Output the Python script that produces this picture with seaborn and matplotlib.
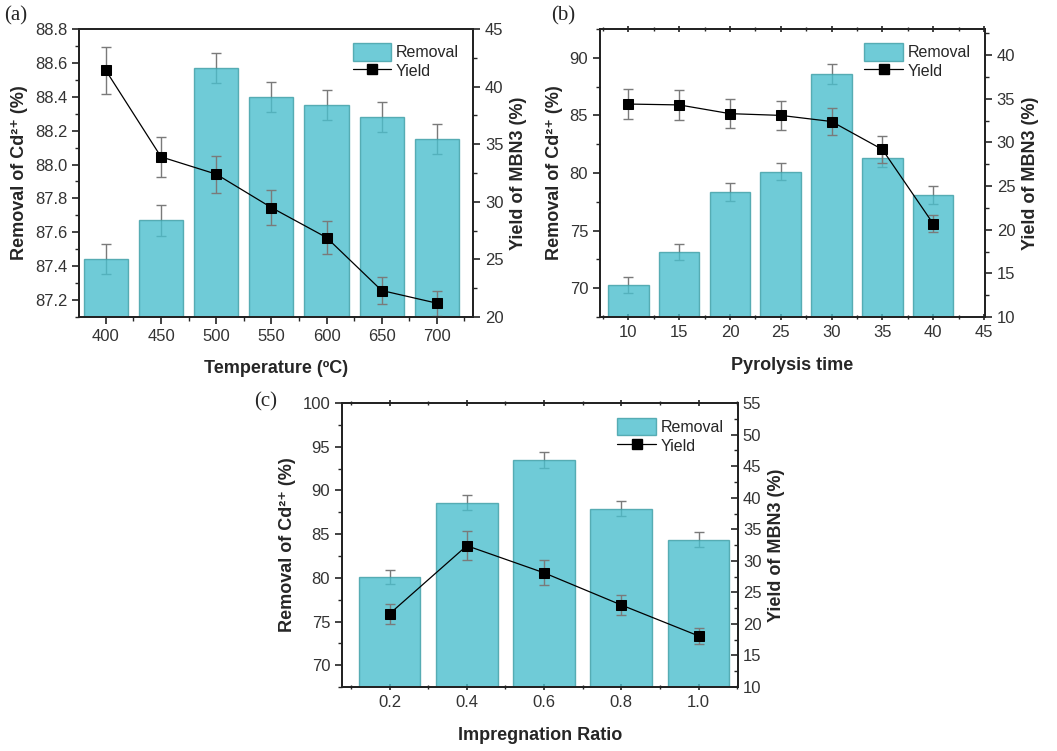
import numpy as np
import seaborn as sns
import matplotlib.pyplot as plt
from matplotlib.ticker import AutoMinorLocator, MultipleLocator
from matplotlib.patches import Patch
from matplotlib.lines import Line2D

# ---- data
temp = [400, 450, 500, 550, 600, 650, 700]
temp_removal = [87.44, 87.67, 88.57, 88.40, 88.35, 88.28, 88.15]
temp_removal_err = [0.088, 0.09, 0.09, 0.09, 0.088, 0.088, 0.088]
temp_yield = [41.4, 33.9, 32.4, 29.5, 26.9, 22.3, 21.2]
temp_yield_err = [2.05, 1.75, 1.6, 1.5, 1.4, 1.2, 1.1]

ptime = [10, 15, 20, 25, 30, 35, 40]
time_removal = [70.26, 73.13, 78.35, 80.12, 88.58, 81.33, 78.12]
time_removal_err = [0.72, 0.72, 0.75, 0.75, 0.85, 0.8, 0.78]
time_yield = [34.4, 34.3, 33.3, 33.1, 32.4, 29.2, 20.7]
time_yield_err = [1.7, 1.7, 1.65, 1.7, 1.6, 1.5, 1.0]

ratio = [0.2, 0.4, 0.6, 0.8, 1.0]
ratio_removal = [80.13, 88.58, 93.45, 87.89, 84.35]
ratio_removal_err = [0.82, 0.85, 0.9, 0.85, 0.85]
ratio_yield = [21.6, 32.4, 28.1, 23.0, 18.1]
ratio_yield_err = [1.6, 2.3, 2.0, 1.65, 1.3]

sns.set_style('ticks')
plt.rcParams['font.family'] = ['Liberation Sans', 'DejaVu Sans']

bar_face = (0.294, 0.75, 0.809)
bar_edge = '#3e9ea6'
err_col = '#7a7a7a'


def panel(rect, x, rem, rem_err, yld, yld_err, xlabel, xlim, ylim1, ylim2,
          xmajor, y1major, y2major, xticks=None, xfmt=None, right_in=False, top_ticks=True):
    ax = fig.add_axes(rect)
    ax.errorbar(x, rem, yerr=rem_err, fmt='none', ecolor=err_col, elinewidth=1,
                capsize=3.5, capthick=1, zorder=1)
    sns.barplot(x=x, y=rem, native_scale=True, width=0.8, color=bar_face, saturation=1,
                alpha=0.8, edgecolor=bar_edge, linewidth=1, errorbar=None, ax=ax, zorder=2)
    ax.set_xlim(*xlim)
    ax.set_ylim(*ylim1)
    ax.xaxis.set_major_locator(MultipleLocator(xmajor))
    ax.yaxis.set_major_locator(MultipleLocator(y1major))
    if xticks is not None:
        ax.set_xticks(xticks)
    if xfmt is not None:
        ax.set_xticklabels([xfmt.format(v) for v in ax.get_xticks()])
    ax.xaxis.set_minor_locator(AutoMinorLocator(2))
    ax.yaxis.set_minor_locator(AutoMinorLocator(2))
    ax.tick_params(axis='both', which='major', direction='out', length=5, width=1.2,
                   labelsize=12, colors='#222222', labelcolor='#333333')
    ax.tick_params(axis='both', which='minor', direction='out', length=3, width=1)
    if top_ticks:
        ax.tick_params(axis='x', which='both', top=True, direction='inout')
    ax.set_xlabel(xlabel, fontsize=13, fontweight='bold', labelpad=12)
    ax.set_ylabel('Removal of Cd²⁺ (%)', fontsize=13, fontweight='bold', labelpad=5)
    for s in ax.spines.values():
        s.set_linewidth(1.3)
        s.set_color('#222222')

    ax2 = ax.twinx()
    sns.lineplot(x=x, y=yld, color='black', marker='s', markersize=7, linewidth=0.9,
                 markeredgecolor='black', ax=ax2, zorder=3)
    ax2.errorbar(x, yld, yerr=yld_err, fmt='none', ecolor=err_col, elinewidth=1,
                 capsize=3.5, capthick=1, zorder=2)
    ax2.set_ylim(*ylim2)
    ax2.yaxis.set_major_locator(MultipleLocator(y2major))
    ax2.yaxis.set_minor_locator(AutoMinorLocator(2))
    d = 'in' if right_in else 'out'
    ax2.tick_params(axis='y', which='major', direction=d, length=5, width=1.2,
                    labelsize=12, labelcolor='#333333')
    ax2.tick_params(axis='y', which='minor', direction=d, length=3, width=1)
    ax2.set_ylabel('Yield of MBN3 (%)', fontsize=13, fontweight='bold', labelpad=5)
    for s in ax2.spines.values():
        s.set_linewidth(1.3)
        s.set_color('#222222')

    handles = [Patch(facecolor=bar_face, alpha=0.8, edgecolor=bar_edge, label='Removal'),
               Line2D([], [], color='black', marker='s', markersize=7, linewidth=0.9, label='Yield')]
    ax2.legend(handles=handles, loc='upper right', frameon=False, fontsize=11.5,
               handlelength=2.4, handleheight=1.3, handletextpad=0.3, borderaxespad=0.5,
               labelspacing=0.1)
    return ax, ax2


fig = plt.figure(figsize=(10.57, 7.51), dpi=100)

panel([0.0747, 0.5779, 0.3728, 0.3835], temp, temp_removal, temp_removal_err,
      temp_yield, temp_yield_err, 'Temperature (ºC)',
      (375.6, 732.8), (87.1, 88.8), (20, 45), 50, 0.2, 5,
      xfmt='{:.0f}', top_ticks=False)

panel([0.5676, 0.5779, 0.3642, 0.3835], ptime, time_removal, time_removal_err,
      time_yield, time_yield_err, 'Pyrolysis time',
      (7.2, 45.1), (67.5, 92.5), (10, 43), 5, 5, 5, xfmt='{:.0f}')

panel([0.3236, 0.0852, 0.3746, 0.378], ratio, ratio_removal, ratio_removal_err,
      ratio_yield, ratio_yield_err, 'Impregnation Ratio',
      (0.077, 1.102), (67.5, 100), (10, 55), 0.2, 5, 5,
      xticks=ratio, xfmt='{:.1f}', right_in=True)

fig.text(0.004, 0.992, '(a)', family='Liberation Serif', fontsize=15, va='top')
fig.text(0.521, 0.992, '(b)', family='Liberation Serif', fontsize=15, va='top')
fig.text(0.240, 0.478, '(c)', family='Liberation Serif', fontsize=15, va='top')

fig.savefig('out.png', dpi=100)
